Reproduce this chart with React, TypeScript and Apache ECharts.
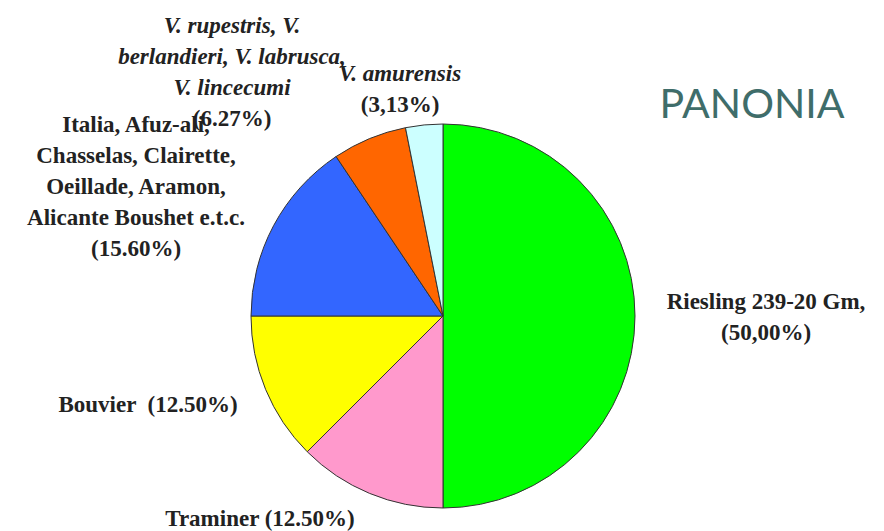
import React, { useEffect, useRef } from "react";
import * as echarts from "echarts";

const names = [
  "Riesling 239-20 Gm",
  "Traminer",
  "Bouvier",
  "Italia, Afuz-ali, Chasselas, Clairette, Oeillade, Aramon, Alicante Boushet e.t.c.",
  "V. rupestris, V. berlandieri, V. labrusca, V. lincecumi",
  "V. amurensis",
];
const values = [50.0, 12.5, 12.5, 15.6, 6.27, 3.13];
const colors = ["#00ff00", "#ff99cc", "#ffff00", "#3366ff", "#ff6600", "#ccffff"];
const labelTexts = [
  "{b|Riesling 239-20 Gm,}\n{b|(50,00%)}",
  "{b|Traminer (12.50%)}",
  "{b|Bouvier  (12.50%)}",
  "{b|Italia, Afuz-ali,}\n{b|Chasselas, Clairette,}\n{b|Oeillade, Aramon,}\n{b|Alicante Boushet e.t.c.}\n{b|(15.60%)}",
  "{i|V. rupestris, V.}\n{i|berlandieri, V. labrusca,}\n{i|V. lincecumi}\n{b|(6.27%)}",
  "{i|V. amurensis}\n{b|(3,13%)}",
];
const labelPos = [
  [766, 317],
  [260, 518],
  [148, 404],
  [136, 186],
  [232, 72],
  [400, 89],
];

export default function App() {
  const ref = useRef<HTMLDivElement>(null);
  useEffect(() => {
    const chart = echarts.init(ref.current!, null, { renderer: "svg" });
    const baseText = {
      fontFamily: "Liberation Serif",
      fontWeight: "bold",
      fontSize: 23,
      color: "#222222",
      lineHeight: 31,
    };
    chart.setOption({
      animation: false,
      backgroundColor: "#ffffff",
      title: {
        text: "PANONIA",
        left: 747,
        top: 97,
        textAlign: "center",
        textVerticalAlign: "middle",
        textStyle: {
          fontFamily: "Lato",
          fontWeight: "normal",
          fontSize: 41,
          color: "#3f6d6a",
        },
      },
      series: [
        {
          type: "pie",
          center: [443, 316],
          radius: 192,
          startAngle: 90,
          clockwise: true,
          avoidLabelOverlap: false,
          itemStyle: { borderColor: "#333333", borderWidth: 1 },
          label: {
            show: true,
            position: "outside",
            formatter: (p: any) => labelTexts[p.dataIndex],
            align: "center",
            rich: {
              b: { ...baseText },
              i: { ...baseText, fontStyle: "italic" },
            },
          },
          labelLine: { show: false },
          labelLayout: (p: any) => ({
            x: labelPos[p.dataIndex][0],
            y: labelPos[p.dataIndex][1],
            align: "center",
            verticalAlign: "middle",
          }),
          emphasis: { disabled: true },
          data: names.map((n, i) => ({
            name: n,
            value: values[i],
            itemStyle: { color: colors[i] },
          })),
        },
      ],
    });
    return () => chart.dispose();
  }, []);
  return (
    <div
      ref={ref}
      style={{ position: "fixed", left: 0, top: 0, width: 884, height: 531 }}
    />
  );
}
